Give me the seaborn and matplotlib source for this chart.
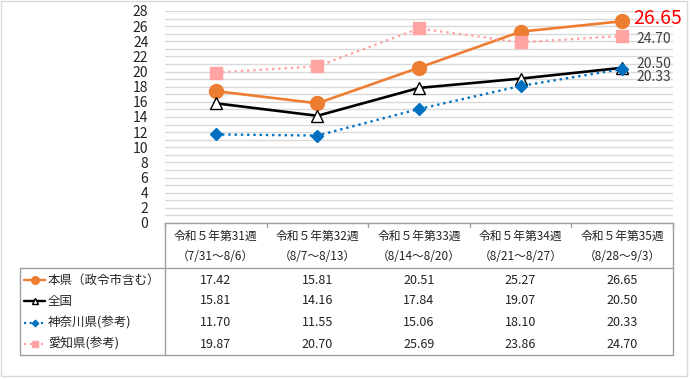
import numpy as np
import pandas as pd
import matplotlib
matplotlib.use("Agg")
import matplotlib.pyplot as plt
from matplotlib.lines import Line2D
import seaborn as sns

# data
weeks = ["令和５年第31週", "令和５年第32週", "令和５年第33週", "令和５年第34週", "令和５年第35週"]
periods = ["（7/31～8/6）", "（8/7～8/13）", "（8/14～8/20）", "（8/21～8/27）", "（8/28～9/3）"]
series_names = ["本県（政令市含む）", "全国", "神奈川県(参考)", "愛知県(参考)"]
honken = [17.42, 15.81, 20.51, 25.27, 26.65]
zenkoku = [15.81, 14.16, 17.84, 19.07, 20.50]
kanagawa = [11.70, 11.55, 15.06, 18.10, 20.33]
aichi = [19.87, 20.70, 25.69, 23.86, 24.70]
yticks = list(range(0, 29, 2))

sns.set_style("white")
plt.rcParams['font.family'] = ['Noto Sans CJK JP', 'DejaVu Sans']

styles = {
    "本県（政令市含む）": dict(color="#ED7D31", ls="-", lw=1.9, marker="o", ms=10, mfc="#ED7D31", mec="#ED7D31"),
    "全国": dict(color="black", ls="-", lw=1.9, marker="^", ms=8.5, mfc="white", mec="black"),
    "神奈川県(参考)": dict(color="#0070C0", ls=":", lw=1.7, marker="D", ms=6, mfc="#0070C0", mec="#0070C0"),
    "愛知県(参考)": dict(color="#FFA3A3", ls=":", lw=1.7, marker="s", ms=8.5, mfc="#FFA3A3", mec="#FFA3A3"),
}

W, H = 690, 379
fig = plt.figure(figsize=(W / 100, H / 100), dpi=100)

def fx(px):
    return px / W

def fy(py):
    return 1 - py / H

x_left, x_right = 165, 673
y_top, y_bot = 11, 223
ax = fig.add_axes([fx(x_left), fy(y_bot), fx(x_right - x_left), (y_bot - y_top) / H])

df = pd.DataFrame({"x": np.arange(5), "本県（政令市含む）": honken, "全国": zenkoku,
                   "神奈川県(参考)": kanagawa, "愛知県(参考)": aichi})
long = df.melt(id_vars="x", var_name="series", value_name="v")

# draw in series order, later series on top
for z, name in enumerate(series_names):
    st = styles[name]
    sub = long[long.series == name]
    sns.lineplot(data=sub, x="x", y="v", ax=ax, color=st["color"], linestyle=st["ls"],
                 linewidth=st["lw"], marker=st["marker"], markersize=st["ms"],
                 markerfacecolor=st["mfc"], markeredgecolor=st["mec"], markeredgewidth=1,
                 zorder=3 + z)

ax.set_xlim(-0.5, 4.5)
ax.set_ylim(0, 28)
ax.set_yticks(yticks)
ax.set_yticks(range(0, 29), minor=True)
ax.tick_params(axis="y", which="both", length=0, labelsize=10, pad=12, colors="#222222")
ax.set_xticks([])
ax.set_xlabel("")
ax.set_ylabel("")
ax.grid(axis="y", which="both", color="#D9D9D9", linewidth=1)
ax.set_axisbelow(True)
for s in ax.spines.values():
    s.set_visible(False)

# end labels
ax.annotate("26.65", (4, honken[4]), xytext=(8, 2), textcoords="offset points",
            color="red", fontsize=14, va="center", ha="left", annotation_clip=False)
ax.annotate("24.70", (4, aichi[4]), xytext=(10, -2), textcoords="offset points",
            color="#404040", fontsize=10, va="center", ha="left", annotation_clip=False)
ax.annotate("20.50", (4, zenkoku[4]), xytext=(10, 3), textcoords="offset points",
            color="#404040", fontsize=10, va="center", ha="left", annotation_clip=False)
ax.annotate("20.33", (4, kanagawa[4]), xytext=(10, -6), textcoords="offset points",
            color="#404040", fontsize=10, va="center", ha="left", annotation_clip=False)

# data table
line_c = "#A0A0A0"
tbl_left = 20
hdr_bot = 268
tbl_bot = 355
def hline(x0, x1, y):
    fig.add_artist(Line2D([fx(x0), fx(x1)], [fy(y), fy(y)], color=line_c, lw=1))
def vline(x, y0, y1):
    fig.add_artist(Line2D([fx(x), fx(x)], [fy(y0), fy(y1)], color=line_c, lw=1))

hline(x_left, x_right, y_bot)
hline(tbl_left, x_right, hdr_bot)
hline(tbl_left, x_right, tbl_bot)
vline(x_left, y_bot, tbl_bot)
vline(x_right, y_bot, tbl_bot)
vline(tbl_left, hdr_bot, tbl_bot)

col_w = (x_right - x_left) / 5
for i in range(6):
    xt = x_left + i * col_w
    vline(xt, y_bot, y_bot + 4)

for i in range(5):
    cx = x_left + (i + 0.5) * col_w
    fig.text(fx(cx), fy(236), weeks[i], ha="center", va="center", fontsize=8.5, color="#222222")
    fig.text(fx(cx), fy(257), periods[i], ha="center", va="center", fontsize=8.5, color="#222222")

rows = [honken, zenkoku, kanagawa, aichi]
row_y = [280, 301, 323, 344]
for name, vals, ry in zip(series_names, rows, row_y):
    st = styles[name]
    fig.add_artist(Line2D([fx(24), fx(45)], [fy(ry), fy(ry)], color=st["color"],
                          linestyle=st["ls"], lw=st["lw"] * 0.9))
    fig.add_artist(Line2D([fx(34.5)], [fy(ry)], marker=st["marker"], ms=st["ms"] * 0.55,
                          mfc=st["mfc"], mec=st["mec"], color=st["color"], lw=0))
    fig.text(fx(48), fy(ry), name, ha="left", va="center", fontsize=9, color="#222222")
    for i, v in enumerate(vals):
        cx = x_left + (i + 0.5) * col_w
        fig.text(fx(cx), fy(ry), f"{v:.2f}", ha="center", va="center", fontsize=9, color="#222222")

# outer frame
fig.add_artist(plt.Rectangle((fx(1), fy(376)), fx(686), (375) / H, fill=False,
                             edgecolor="#D9D9D9", lw=1))

fig.savefig("out.png", dpi=100)
